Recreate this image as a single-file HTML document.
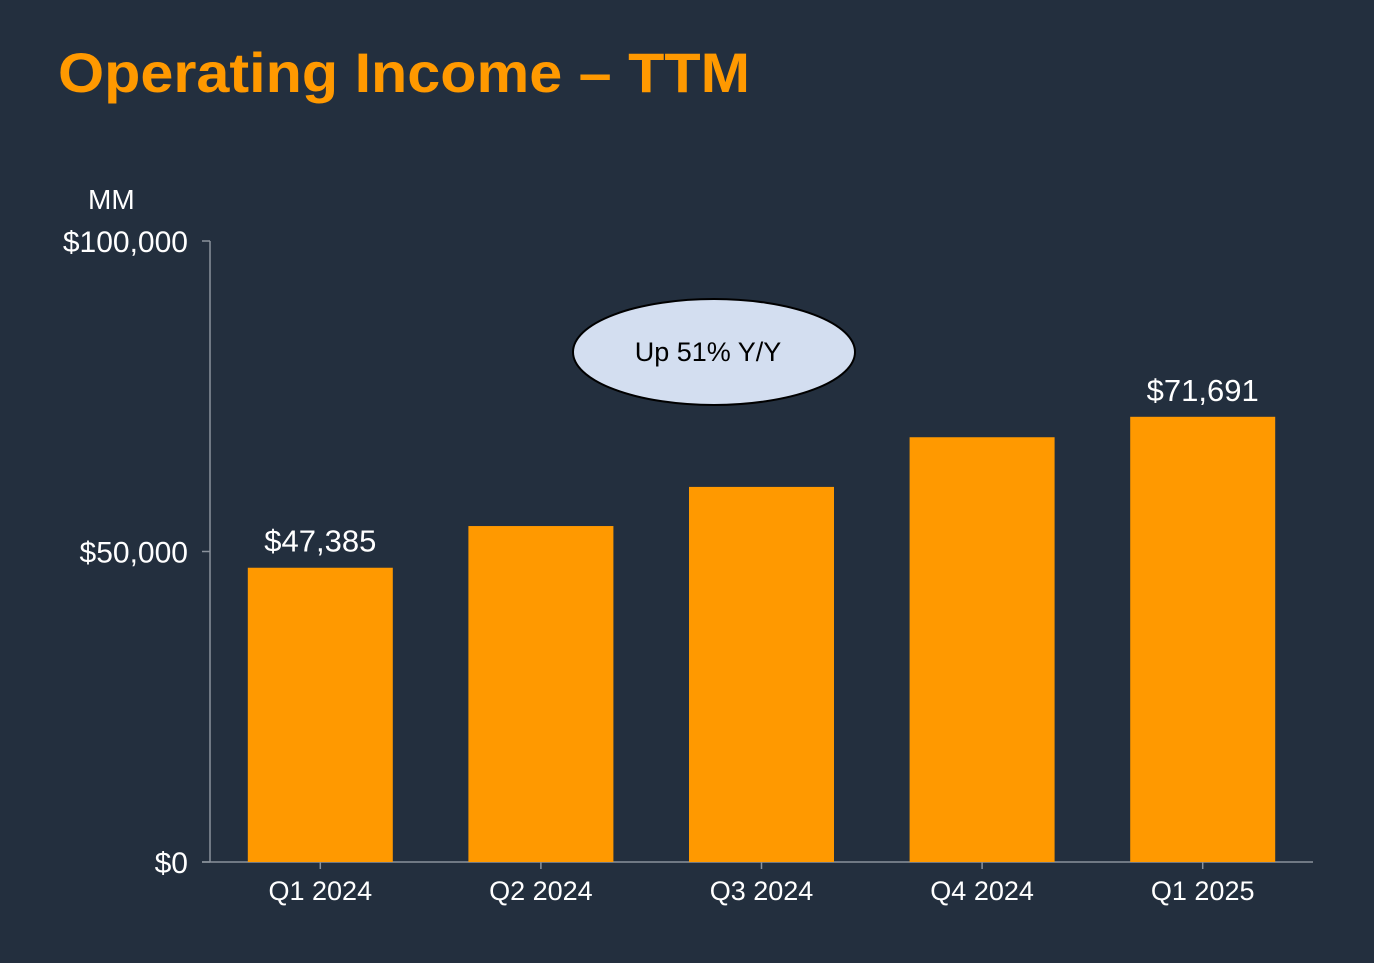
<!DOCTYPE html>
<html><head><meta charset="utf-8"><style>
html,body{margin:0;padding:0;background:#232f3e;}
body{width:1374px;height:958px;overflow:hidden;font-family:"Liberation Sans","DejaVu Sans",sans-serif;}
</style></head><body>
<svg width="1374" height="958" xmlns="http://www.w3.org/2000/svg">
<text x="58" y="92" fill="#ff9900" font-size="56" font-weight="bold" textLength="692" lengthAdjust="spacingAndGlyphs" font-family="Liberation Sans, sans-serif">Operating Income – TTM</text>
<text x="88" y="209" fill="#ffffff" font-size="28">MM</text>
<g id="axes"></g>
<g id="bars"></g>
<g>
<ellipse cx="714" cy="352" rx="141" ry="53" fill="#d3def0" stroke="#000" stroke-width="2"/>
<text x="708" y="361" text-anchor="middle" font-size="27" fill="#000">Up 51% Y/Y</text>
</g>
</svg>
<script>
const categories=["Q1 2024","Q2 2024","Q3 2024","Q4 2024","Q1 2025"];
const values=[47385,54100,60400,68400,71691];
const labels=["$47,385","","","","$71,691"];
const tickValues=[0,50000,100000];
const tickLabels=["$0","$50,000","$100,000"];
const NS="http://www.w3.org/2000/svg";
const x0=210,x1=1313,y0=862,y1=241,yMax=100000;
const y=v=>y0-(y0-y1)*v/yMax;
const band=(x1-x0)/categories.length;
const xc=i=>x0+band*(i+0.5);
const bw=145;
function mk(t,a,p){const e=document.createElementNS(NS,t);for(const k in a)e.setAttribute(k,a[k]);p.appendChild(e);return e;}
const ax=document.getElementById('axes'),bg=document.getElementById('bars');
const yl=mk('line',{x1:x0,y1:y1,x2:x0,y2:y0,stroke:'#8a929c','stroke-width':1.5},ax);


const xl=mk('line',{x1:x0-8,y1:y0,x2:x1,y2:y0,stroke:'#8a929c','stroke-width':1.5},ax);


tickValues.forEach((v,i)=>{
 mk('line',{x1:x0-8,y1:y(v),x2:x0,y2:y(v),stroke:'#8a929c','stroke-width':1.5},ax);
 const t=mk('text',{x:188,y:y(v)+11,'text-anchor':'end',fill:'#fff','font-size':30},ax);
 t.textContent=tickLabels[i];
 
 
});
categories.forEach((c,i)=>{
 const r=mk('rect',{x:xc(i)-bw/2,y:y(values[i]),width:bw,height:y0-y(values[i]),fill:'#ff9900'},bg);
 
 
 mk('line',{x1:xc(i),y1:y0,x2:xc(i),y2:y0+7,stroke:'#8a929c','stroke-width':1.5},ax);
 const t=mk('text',{x:xc(i),y:y0+38,'text-anchor':'middle',fill:'#fff','font-size':27},ax);
 t.textContent=c;
 
 
 if(labels[i]){
  const l=mk('text',{x:xc(i),y:y(values[i])-16,'text-anchor':'middle',fill:'#fff','font-size':31},bg);
  l.textContent=labels[i];
  
  
 }
});
</script>
</body></html>
